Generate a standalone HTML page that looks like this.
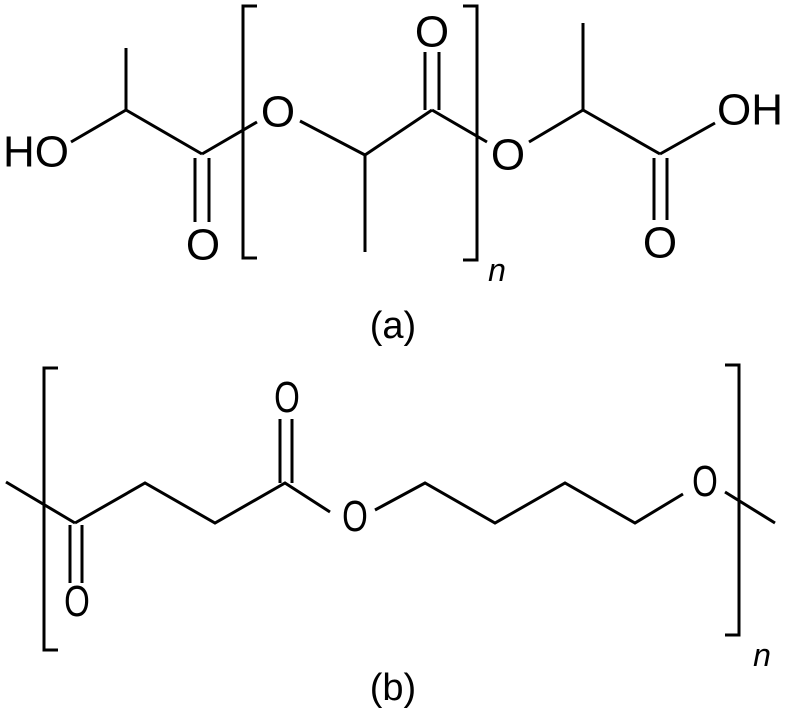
<!DOCTYPE html>
<html><head><style>html,body{margin:0;padding:0;background:#fff}</style></head><body>
<svg width="787" height="709" viewBox="0 0 787 709" xmlns="http://www.w3.org/2000/svg" font-family="Liberation Sans, sans-serif">
<g stroke="#000" stroke-width="3" fill="none">
<!-- (a) -->
<line x1="126" y1="48" x2="126" y2="110"/>
<line x1="71" y1="142" x2="126" y2="110"/>
<line x1="126" y1="110" x2="202" y2="154"/>
<line x1="195" y1="158" x2="195" y2="222"/>
<line x1="209" y1="158" x2="209" y2="222"/>
<line x1="202" y1="154" x2="257" y2="122"/>
<polyline points="257,6 243,6 243,258 257,258"/>
<line x1="300" y1="121" x2="365" y2="155"/>
<line x1="365" y1="155" x2="365" y2="252"/>
<line x1="365" y1="155" x2="432" y2="110"/>
<line x1="425" y1="52" x2="425" y2="110"/>
<line x1="439" y1="52" x2="439" y2="110"/>
<polyline points="463,6 477,6 477,260 463,260"/>
<line x1="432" y1="110" x2="487" y2="142"/>
<line x1="529" y1="142" x2="583" y2="110"/>
<line x1="583" y1="110" x2="583" y2="23"/>
<line x1="583" y1="110" x2="660" y2="154"/>
<line x1="654" y1="158" x2="654" y2="220"/>
<line x1="667" y1="158" x2="667" y2="220"/>
<line x1="660" y1="154" x2="715" y2="123"/>
<!-- (b) -->
<polyline points="58,368 44,368 44,650 58,650"/>
<polyline points="725,365 739,365 739,635 725,635"/>
<line x1="6" y1="482" x2="75" y2="523"/>
<line x1="70" y1="525" x2="70" y2="583"/>
<line x1="82" y1="525" x2="82" y2="583"/>
<polyline points="75,523 145,483 215,523 285,483 330,512"/>
<line x1="280" y1="483" x2="280" y2="419"/>
<line x1="292" y1="483" x2="292" y2="419"/>
<polyline points="375,510 425,483 495,523 565,483 635,523 683,494"/>
<line x1="725" y1="492" x2="775" y2="523"/>
</g>
<g font-size="44" text-anchor="middle" fill="#000" dominant-baseline="central">
<text x="36" y="152">HO</text>
<text x="203" y="245">O</text>
<text x="278" y="112">O</text>
<text x="432" y="32">O</text>
<text x="508" y="155">O</text>
<text x="660" y="243">O</text>
<text x="750" y="110">OH</text>
</g>
<g font-size="44" text-anchor="middle" fill="#000" dominant-baseline="central">
<text x="77" y="602" transform="translate(77 602) scale(0.75 1) translate(-77 -602)">O</text>
<text x="287" y="398" transform="translate(287 398) scale(0.75 1) translate(-287 -398)">O</text>
<text x="355" y="517" transform="translate(355 517) scale(0.75 1) translate(-355 -517)">O</text>
<text x="705" y="482" transform="translate(705 482) scale(0.75 1) translate(-705 -482)">O</text>
</g>
<text x="497" y="281" font-size="32" font-style="italic" text-anchor="middle">n</text>
<text x="762" y="666" font-size="32" font-style="italic" text-anchor="middle">n</text>
<text x="393" y="338" font-size="38" text-anchor="middle">(a)</text>
<text x="393" y="700" font-size="38" text-anchor="middle">(b)</text>
</svg>
</body></html>
